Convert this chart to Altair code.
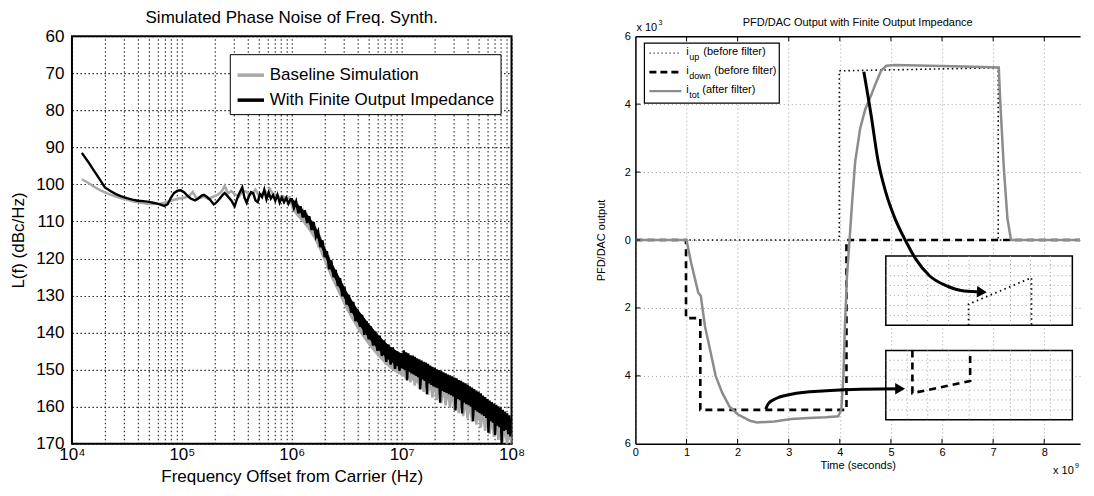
import altair as alt
import pandas as pd

FONT = "Liberation Sans"

# ================= Left panel: simulated phase noise =================
series_names = ["Baseline Simulation", "With Finite Output Impedance"]

# log10(frequency offset) and L(f) magnitude (dBc/Hz)
gray_exp = [4.09, 4.15, 4.2, 4.26, 4.32, 4.38, 4.44, 4.5, 4.56, 4.62, 4.68, 4.74, 4.8, 4.86,
            4.92, 4.97, 5.02, 5.06, 5.1, 5.13, 5.17, 5.2, 5.24, 5.28, 5.32, 5.36, 5.39, 5.42,
            5.45, 5.48, 5.52, 5.55, 5.58, 5.62, 5.65, 5.67, 5.7, 5.73, 5.76, 5.78, 5.8, 5.83,
            5.86, 5.89, 5.92, 5.95, 5.98,
            6.00, 6.02, 6.04, 6.06, 6.08, 6.10, 6.12, 6.14, 6.16, 6.18, 6.20, 6.22, 6.24, 6.26,
            6.28, 6.30, 6.32, 6.34, 6.36, 6.38, 6.40, 6.42, 6.44, 6.46, 6.48, 6.50, 6.52, 6.54,
            6.56, 6.58, 6.60, 6.62, 6.64, 6.66, 6.68, 6.70, 6.72, 6.74, 6.76, 6.78, 6.80, 6.82,
            6.84, 6.86, 6.88, 6.90, 6.92, 6.94, 6.96, 6.98, 7.00, 7.02, 7.04, 7.06, 7.08, 7.10,
            7.12, 7.14, 7.16, 7.18, 7.20, 7.22, 7.24, 7.26, 7.28, 7.30, 7.32, 7.34, 7.36, 7.38,
            7.40, 7.42, 7.44, 7.46, 7.48, 7.50, 7.52, 7.54, 7.56, 7.58, 7.60, 7.62, 7.64, 7.66,
            7.68, 7.70, 7.72, 7.74, 7.76, 7.78, 7.80, 7.82, 7.84, 7.86, 7.88, 7.90, 7.92, 7.94,
            7.96, 7.98, 8.00]
gray_dbc = [98.6, 99.6, 100.6, 101.6, 102.4, 103.1, 103.7, 104.1, 104.6, 104.9, 105.2, 105.3,
            105.2, 104.8, 104.2, 103.8, 103.6, 103.3, 102.0, 103.6, 103.6, 103.3, 103.9, 103.4,
            102.9, 102.0, 100.4, 102.4, 101.8, 102.6, 103.3, 102.0, 101.8, 102.9, 102.2, 101.4,
            103.0, 102.5, 101.9, 102.8, 101.2, 102.6, 102.9, 103.5, 103.1, 104.0, 103.5,
            105.5, 104.8, 107.0, 105.9, 108.5, 107.2, 110.0, 108.6, 111.5, 110.4, 113.4, 112.3,
            116.0, 114.6, 118.5, 117.4, 121.6, 120.2, 124.5, 122.6, 127.0, 124.9, 129.3, 127.4,
            131.8, 129.7, 134.0, 131.9, 136.2, 133.8, 138.4, 135.6, 140.0, 137.3, 141.9, 138.8,
            143.3, 140.4, 144.8, 141.6, 146.2, 142.8, 147.5, 143.9, 148.6, 145.2, 149.9, 146.0,
            150.6, 146.9, 151.5, 147.5, 152.6, 148.3, 153.4, 148.9, 154.3, 149.7, 155.1, 150.4,
            156.0, 151.1, 156.8, 151.9, 157.5, 152.6, 158.2, 153.3, 159.0, 154.1, 159.6, 154.8,
            160.3, 155.4, 161.0, 156.1, 161.7, 156.9, 162.5, 157.6, 163.2, 158.4, 164.0, 159.2,
            164.8, 160.0, 165.6, 160.9, 166.5, 161.7, 167.3, 162.6, 168.1, 163.4, 168.9, 164.3,
            169.6, 165.2, 170.0, 166.0, 170.0]

black_exp = [4.09, 4.15, 4.2, 4.25, 4.3, 4.35, 4.4, 4.45, 4.5, 4.55, 4.6, 4.65, 4.7, 4.75, 4.8,
             4.84, 4.87, 4.9, 4.93, 4.96, 4.99, 5.02, 5.05, 5.08, 5.12, 5.15, 5.18, 5.2, 5.23,
             5.26, 5.29, 5.31, 5.34, 5.37, 5.39, 5.42, 5.45, 5.48, 5.5, 5.52, 5.55, 5.57, 5.59,
             5.61, 5.63, 5.65, 5.67, 5.69, 5.71, 5.73, 5.75, 5.77, 5.79, 5.81, 5.83, 5.85, 5.87,
             5.89, 5.91, 5.93, 5.95, 5.97, 5.99,
             6.00, 6.02, 6.04, 6.06, 6.08, 6.10, 6.12, 6.14, 6.16, 6.18, 6.20, 6.22, 6.24, 6.26,
             6.28, 6.30, 6.32, 6.34, 6.36, 6.38, 6.40, 6.42, 6.44, 6.46, 6.48, 6.50, 6.52, 6.54,
             6.56, 6.58, 6.60, 6.62, 6.64, 6.66, 6.68, 6.70, 6.72, 6.74, 6.76, 6.78, 6.80, 6.82,
             6.84, 6.86, 6.88, 6.90, 6.92, 6.94, 6.96, 6.98, 7.00,
             7.01, 7.02, 7.03, 7.04, 7.05, 7.06, 7.07, 7.08, 7.09, 7.10, 7.11, 7.12, 7.13, 7.14,
             7.15, 7.16, 7.17, 7.18, 7.19, 7.20, 7.21, 7.22, 7.23, 7.24, 7.25, 7.26, 7.27, 7.28,
             7.29, 7.30, 7.31, 7.32, 7.33, 7.34, 7.35, 7.36, 7.37, 7.38, 7.39, 7.40, 7.41, 7.42,
             7.43, 7.44, 7.45, 7.46, 7.47, 7.48, 7.49, 7.50, 7.51, 7.52, 7.53, 7.54, 7.55, 7.56,
             7.57, 7.58, 7.59, 7.60, 7.61, 7.62, 7.63, 7.64, 7.65, 7.66, 7.67, 7.68, 7.69, 7.70,
             7.71, 7.72, 7.73, 7.74, 7.75, 7.76, 7.77, 7.78, 7.79, 7.80, 7.81, 7.82, 7.83, 7.84,
             7.85, 7.86, 7.87, 7.88, 7.89, 7.90, 7.91, 7.92, 7.93, 7.94, 7.95, 7.96, 7.97, 7.98,
             7.99, 8.00]
black_dbc = [91.5, 94.0, 96.3, 98.5, 100.8, 101.8, 102.6, 103.2, 103.7, 104.1, 104.4, 104.5, 104.7,
             105.0, 105.4, 105.8, 105.4, 103.6, 102.3, 101.7, 101.6, 102.1, 103.0, 103.8, 104.3,
             103.8, 103.0, 102.8, 103.4, 104.2, 105.4, 105.0, 104.0, 102.9, 102.3, 103.3, 104.3,
             105.9, 104.1, 102.6, 100.8, 103.6, 105.0, 103.2, 102.1, 102.4, 104.3, 104.8, 102.6,
             103.4, 101.4, 104.0, 102.2, 103.8, 102.9, 104.4, 102.8, 104.9, 103.5, 104.8, 103.6,
             105.2, 104.0,
             104.0, 106.3, 104.6, 107.8, 105.9, 108.9, 107.0, 110.4, 108.6, 112.3, 110.2, 114.1,
             112.6, 116.9, 115.1, 119.6, 118.0, 122.9, 120.5, 125.0, 123.1, 127.4, 125.3, 130.2,
             127.6, 132.4, 129.8, 134.6, 131.7, 136.9, 133.8, 138.4, 135.2, 140.6, 136.9, 141.8,
             138.3, 143.5, 139.7, 144.9, 140.8, 146.3, 142.1, 147.9, 143.2, 148.6, 144.0, 149.8,
             145.1, 150.3, 145.6,
             149.6, 144.8, 150.1, 145.3, 152.9, 145.6, 150.4, 146.1, 151.0, 146.2, 151.3, 146.5,
             151.6, 146.9, 152.0, 147.2, 155.3, 147.5, 152.6, 147.9, 153.0, 148.1, 156.6, 148.4,
             153.7, 148.9, 154.1, 149.2, 154.5, 149.5, 154.8, 149.9, 155.0, 150.1, 158.9, 150.4,
             155.7, 150.7, 156.0, 151.0, 156.3, 151.3, 156.6, 151.5, 156.9, 151.8, 157.2, 152.1,
             161.0, 152.3, 157.9, 152.8, 158.2, 153.0, 161.8, 153.4, 158.9, 153.7, 159.3, 154.0,
             159.6, 154.5, 160.0, 154.8, 163.9, 155.2, 160.9, 155.6, 161.3, 156.0, 161.7, 156.4,
             162.1, 157.0, 162.5, 157.4, 163.0, 157.9, 167.0, 158.3, 163.9, 158.7, 164.3, 159.1,
             167.6, 159.5, 165.1, 159.9, 165.5, 160.3, 170.0, 160.8, 166.5, 161.3, 166.2, 161.8,
             167.4, 162.3, 168.0, 163.0]

# dense noise envelope of the two traces above 1 MHz (log10 f, upper and lower edge in dBc/Hz)
band_exp = [6.00, 6.05, 6.10, 6.15, 6.20, 6.25, 6.30, 6.35, 6.40, 6.45, 6.50, 6.55, 6.60, 6.65,
            6.70, 6.75, 6.80, 6.85, 6.90, 6.95, 7.00, 7.05, 7.10, 7.15, 7.20, 7.25, 7.30, 7.35,
            7.40, 7.45, 7.50, 7.55, 7.60, 7.65, 7.70, 7.75, 7.80, 7.85, 7.90, 7.95, 8.00]
black_band_top = [103.6, 105.3, 106.7, 108.4, 110.5, 113.4, 116.8, 120.2, 123.1, 126.0, 128.9, 131.3,
                  133.7, 135.6, 137.5, 139.3, 141.0, 142.5, 143.8, 144.8, 145.6, 146.3, 147.0, 147.8,
                  148.5, 149.3, 150.0, 150.8, 151.5, 152.3, 153.0, 153.9, 154.8, 155.8, 156.8, 157.9,
                  158.9, 160.0, 161.0, 162.2, 163.3]
black_band_bot = [104.8, 106.7, 108.3, 110.2, 112.5, 115.6, 119.2, 122.8, 125.9, 129.0, 132.1, 134.7,
                  137.3, 139.4, 141.5, 143.3, 145.0, 146.5, 147.8, 148.8, 149.6, 150.3, 151.0, 151.8,
                  152.5, 153.3, 154.0, 154.8, 155.5, 156.3, 157.0, 157.9, 158.8, 159.8, 160.8, 161.9,
                  162.9, 164.0, 165.0, 166.2, 167.3]
gray_band_top = [104.6, 106.3, 107.7, 109.4, 111.5, 114.4, 117.8, 121.2, 124.1, 127.0, 129.9, 132.3,
                 134.7, 136.6, 138.5, 140.3, 142.0, 143.5, 144.8, 145.8, 146.6, 147.3, 148.0, 148.8,
                 149.5, 150.3, 151.0, 151.8, 152.5, 153.3, 154.0, 154.9, 155.8, 156.8, 157.8, 158.9,
                 159.9, 161.0, 162.0, 163.2, 164.3]
gray_band_bot = [106.8, 108.7, 110.3, 112.2, 114.5, 117.6, 121.2, 124.8, 127.9, 131.0, 134.1, 136.7,
                 139.3, 141.4, 143.5, 145.3, 147.0, 148.5, 149.8, 150.8, 151.6, 152.3, 153.0, 153.8,
                 154.5, 155.3, 156.0, 156.8, 157.5, 158.3, 159.0, 159.9, 160.8, 161.8, 162.8, 163.9,
                 164.9, 166.0, 167.0, 168.2, 169.3]

decade_values = [10000, 100000, 1000000, 10000000, 100000000]
decade_labels = ["10⁴", "10⁵", "10⁶", "10⁷", "10⁸"]
left_y_ticks = [60, 70, 80, 90, 100, 110, 120, 130, 140, 150, 160, 170]

# ================= Right panel: PFD/DAC output (units of 1e-3, time in 1e-9 s) =================
t_tot = [0.0, 1.0, 1.09, 1.23, 1.28, 1.36, 1.47, 1.57, 1.7, 1.84, 2.0, 2.24, 2.38, 2.72, 3.05,
         3.39, 3.73, 3.97, 4.03, 4.07, 4.1, 4.14, 4.19, 4.24, 4.3, 4.4, 4.5, 4.61, 4.71, 4.81,
         4.91, 5.08, 5.76, 6.43, 7.11, 7.14, 7.21, 7.28, 7.35, 8.7]
i_tot = [0.0, 0.0, -0.67, -1.55, -1.65, -2.53, -3.3, -4.0, -4.5, -4.9, -5.13, -5.32, -5.37,
         -5.34, -5.27, -5.24, -5.22, -5.19, -4.98, -4.0, -2.53, -1.06, 0.0, 1.1, 2.3, 3.3, 3.86,
         4.25, 4.64, 4.99, 5.13, 5.15, 5.13, 5.11, 5.08, 4.06, 2.1, 0.63, 0.0, 0.0]

t_up = [0.0, 3.99, 3.99, 7.10, 7.10, 8.7]
i_up = [0.0, 0.0, 4.98, 5.07, 0.0, 0.0]

t_down = [0.0, 0.99, 0.99, 1.27, 1.27, 4.13, 4.13, 8.7]
i_down = [0.0, 0.0, -2.3, -2.3, -5.0, -5.0, 0.0, 0.0]

inset_t = [4.9, 8.55]
upper_inset_i = [-0.47, -2.51]
lower_inset_i = [-3.25, -5.29]
inset_grid_t = [5.32, 5.72, 6.13, 6.53, 6.94, 7.34, 7.73, 8.12]
upper_grid_i = [-0.76, -1.05, -1.34, -1.63, -1.93, -2.22]
lower_grid_i = [-3.54, -3.83, -4.12, -4.42, -4.71, -5.0]

zoom_up_t = [6.52, 6.52, 7.75, 7.75]
zoom_up_i = [-2.51, -1.89, -1.11, -2.51]
zoom_down_t = [5.42, 5.42, 6.55, 6.55]
zoom_down_i = [-3.25, -4.51, -4.15, -3.36]

arrow1_t = [4.47, 4.62, 4.74, 4.9, 5.08, 5.28, 5.49, 5.76, 6.09, 6.43, 6.78]
arrow1_i = [4.95, 3.6, 2.4, 1.4, 0.63, 0.0, -0.57, -1.06, -1.35, -1.5, -1.53]
arrow2_t = [2.55, 2.6, 2.72, 3.05, 3.73, 4.41, 5.18]
arrow2_i = [-4.98, -4.82, -4.69, -4.54, -4.44, -4.39, -4.38]

x_ticks_right = [0, 1, 2, 3, 4, 5, 6, 7, 8]
y_ticks_right = [-6, -4, -2, 0, 2, 4, 6]
legend_subs = ["up", "down", "tot"]
legend_rest = ["(before filter)", "(before filter)", "(after filter)"]

# ---------------------------------------------------------------------------
minor_ticks = [m * 10 ** k for k in range(4, 8) for m in range(1, 10)] + [10 ** 8]
label_expr = " : ".join(f"datum.value == {v} ? '{lab}'" for v, lab in zip(decade_values, decade_labels)) + " : ''"


def left_frame(exps, vals, name):
    return pd.DataFrame({"f": [10 ** e for e in exps], "L": vals, "series": name,
                         "k": list(range(len(vals)))})


x_axis_left = alt.Axis(values=minor_ticks, labelExpr=label_expr, title="Frequency Offset from Carrier (Hz)",
                       labelFont=FONT, labelFontSize=17, labelColor="black", labelPadding=3,
                       labelFlush=False, labelOverlap=False,
                       titleFont=FONT, titleFontSize=17, titleFontWeight="normal", titleColor="black",
                       titlePadding=6, grid=True, gridColor="black", gridDash=[1.5, 2.5],
                       gridOpacity=0.85, gridWidth=1.1, domain=False, ticks=False)
y_axis_left = alt.Axis(values=left_y_ticks, title="L(f) (dBc/Hz)", labelFont=FONT, labelFontSize=17,
                       labelColor="black", labelPadding=8, titleFont=FONT, titleFontSize=17,
                       titleFontWeight="normal", titleColor="black", titlePadding=8, grid=True,
                       gridColor="black", gridDash=[1.5, 2.5], gridOpacity=0.85, gridWidth=1.1,
                       domain=False, ticks=False)

LXS = alt.Scale(type="log", domain=[1e4, 1e8], nice=False)
LYS = alt.Scale(domain=[60, 170], reverse=True, nice=False)
xL = alt.X("f:Q", scale=LXS, axis=x_axis_left)
yL = alt.Y("L:Q", scale=LYS, axis=y_axis_left)
colorL = alt.Color("series:N", scale=alt.Scale(domain=series_names, range=["#a9a9a9", "#000000"]),
                   legend=alt.Legend(title=None, orient="none", legendX=158, legendY=18,
                                     symbolType="stroke", symbolSize=700, symbolStrokeWidth=3.5,
                                     labelFont=FONT, labelFontSize=17, labelColor="black",
                                     labelLimit=400, strokeColor="black", fillColor="white",
                                     padding=6, rowPadding=2))

band_df = pd.DataFrame({"f": [10 ** e for e in band_exp], "bt": black_band_top, "bb": black_band_bot,
                        "gt": gray_band_top, "gb": gray_band_bot})
gray_band = alt.Chart(band_df).mark_area(color="#a9a9a9", clip=True).encode(
    x=alt.X("f:Q", scale=LXS, axis=x_axis_left), y=alt.Y("gt:Q", scale=LYS, axis=y_axis_left), y2="gb:Q")
black_band = alt.Chart(band_df).mark_area(color="#000000", clip=True).encode(
    x=alt.X("f:Q", scale=LXS, axis=x_axis_left), y=alt.Y("bt:Q", scale=LYS, axis=y_axis_left), y2="bb:Q")

gray_line = alt.Chart(left_frame(gray_exp, gray_dbc, series_names[0])).mark_line(
    strokeWidth=2.5, clip=True).encode(x=xL, y=yL, color=colorL, order="k:Q")
black_line = alt.Chart(left_frame(black_exp, black_dbc, series_names[1])).mark_line(
    strokeWidth=2.4, clip=True).encode(x=xL, y=yL, color=colorL, order="k:Q")

left = alt.layer(gray_band, gray_line, black_band, black_line).properties(
    width=440, height=408,
    title=alt.TitleParams("Simulated Phase Noise of Freq. Synth.", font=FONT, fontSize=17,
                          fontWeight="normal", color="black", offset=0, frame="group"),
    view=alt.ViewBackground(stroke="black", strokeWidth=2))

# ---------------------------------------------------------------------------
one = pd.DataFrame({"a": [1]})
XS = alt.Scale(domain=[0, 8.7], nice=False)
YS = alt.Scale(domain=[-6, 6], nice=False)
GRID_R = "#a0a0a0"


def seq_frame(ts, vs):
    return pd.DataFrame({"t": ts, "v": vs, "k": list(range(len(ts)))})


def line_layer(ts, vs, x_axis=None, y_axis=None, **style):
    return alt.Chart(seq_frame(ts, vs)).mark_line(**style).encode(
        x=alt.X("t:Q", scale=XS, axis=x_axis), y=alt.Y("v:Q", scale=YS, axis=y_axis), order="k:Q")


x_axis_right = alt.Axis(values=x_ticks_right, title="Time (seconds)", labelFont=FONT, labelFontSize=11,
                        labelColor="black", labelPadding=3, labelFlush=False, titleFont=FONT,
                        titleFontSize=11, titleFontWeight="normal", titleColor="black", titlePadding=2,
                        grid=True, gridColor=GRID_R, gridDash=[1, 3], gridWidth=1, domain=True,
                        domainColor="black", domainWidth=1.5, ticks=False, orient="bottom")
y_axis_right = alt.Axis(values=y_ticks_right, labelExpr="abs(datum.value)", title="PFD/DAC output",
                        labelFont=FONT, labelFontSize=11, labelColor="black", labelPadding=5,
                        titleFont=FONT, titleFontSize=11, titleFontWeight="normal", titleColor="black",
                        titlePadding=18, grid=True, gridColor=GRID_R, gridDash=[1, 3], gridWidth=1,
                        domain=True, domainColor="black", domainWidth=1.5, ticks=False)
top_axis = alt.Axis(orient="top", labels=False, ticks=False, grid=False, title=None, domain=True,
                    domainColor="black", domainWidth=1.5, minExtent=0, maxExtent=0)

layers = []
layers.append(line_layer(t_up, i_up, color="black", strokeWidth=1.6, strokeDash=[1.5, 3]))
layers.append(line_layer(t_down, i_down, color="black", strokeWidth=2.6, strokeDash=[7, 5]))
layers.append(line_layer(t_tot, i_tot, x_axis=x_axis_right, y_axis=y_axis_right,
                         color="#8c8c8c", strokeWidth=2.5))
layers.append(alt.Chart(seq_frame(t_tot, i_tot)).mark_point(opacity=0).encode(
    x=alt.X("t:Q", scale=XS, axis=top_axis), y=alt.Y("v:Q", scale=YS, axis=None)))

# inward tick marks on the frame
tick_x = pd.DataFrame({"t": x_ticks_right[1:]})
tick_y = pd.DataFrame({"v": y_ticks_right[1:-1]})
layers.append(alt.Chart(tick_x).mark_rule(color="black", strokeWidth=1).encode(
    x=alt.X("t:Q", scale=XS, axis=None), y=alt.value(0), y2=alt.value(5)))
layers.append(alt.Chart(tick_x).mark_rule(color="black", strokeWidth=1).encode(
    x=alt.X("t:Q", scale=XS, axis=None), y=alt.value(403), y2=alt.value(408)))
layers.append(alt.Chart(tick_y).mark_rule(color="black", strokeWidth=1).encode(
    y=alt.Y("v:Q", scale=YS, axis=None), x=alt.value(0), x2=alt.value(5)))

# insets
boxes = pd.DataFrame({"t0": [inset_t[0]] * 2, "t1": [inset_t[1]] * 2,
                      "v0": [upper_inset_i[0], lower_inset_i[0]], "v1": [upper_inset_i[1], lower_inset_i[1]]})
layers.append(alt.Chart(boxes).mark_rect(fill="white", stroke="black", strokeWidth=1.5).encode(
    x=alt.X("t0:Q", scale=XS, axis=None), x2="t1:Q",
    y=alt.Y("v0:Q", scale=YS, axis=None), y2="v1:Q"))
vgrid = pd.DataFrame({"t": inset_grid_t * 2,
                      "v0": [upper_inset_i[0]] * len(inset_grid_t) + [lower_inset_i[0]] * len(inset_grid_t),
                      "v1": [upper_inset_i[1]] * len(inset_grid_t) + [lower_inset_i[1]] * len(inset_grid_t)})
layers.append(alt.Chart(vgrid).mark_rule(color=GRID_R, strokeWidth=1, strokeDash=[1, 3]).encode(
    x=alt.X("t:Q", scale=XS, axis=None), y=alt.Y("v0:Q", scale=YS, axis=None), y2="v1:Q"))
hgrid = pd.DataFrame({"v": upper_grid_i + lower_grid_i, "t0": inset_t[0], "t1": inset_t[1]})
layers.append(alt.Chart(hgrid).mark_rule(color=GRID_R, strokeWidth=1, strokeDash=[1, 3]).encode(
    y=alt.Y("v:Q", scale=YS, axis=None), x=alt.X("t0:Q", scale=XS, axis=None), x2="t1:Q"))
layers.append(line_layer(zoom_up_t, zoom_up_i, color="black", strokeWidth=1.8, strokeDash=[1.5, 3.5]))
layers.append(line_layer(zoom_down_t, zoom_down_i, color="black", strokeWidth=2.6, strokeDash=[7, 5]))

# curved arrows
layers.append(line_layer(arrow1_t, arrow1_i, color="black", strokeWidth=3, interpolate="monotone"))
layers.append(line_layer(arrow2_t, arrow2_i, color="black", strokeWidth=3, interpolate="monotone"))
heads = pd.DataFrame({"t": [arrow1_t[-1], arrow2_t[-1]], "v": [arrow1_i[-1], arrow2_i[-1]],
                      "ang": [3, 0]})
layers.append(alt.Chart(heads).mark_point(shape="triangle-right", filled=True, size=130,
                                          color="black", opacity=1).encode(
    x=alt.X("t:Q", scale=XS, axis=None), y=alt.Y("v:Q", scale=YS, axis=None),
    angle=alt.Angle("ang:Q", scale=None)))

# legend (built by hand so the subscripts can be shown)
layers.append(alt.Chart(one).mark_rect(fill="white", stroke="black", strokeWidth=1.2).encode(
    x=alt.value(9), x2=alt.value(144), y=alt.value(7), y2=alt.value(67)))
row_y = [17, 36, 55]
sample_styles = [dict(color="#555555", strokeWidth=1.2, strokeDash=[1.5, 2.5]),
                 dict(color="black", strokeWidth=2.6, strokeDash=[7, 4]),
                 dict(color="#8c8c8c", strokeWidth=2.2)]
rest_x = [68, 79, 67]
for j in range(3):
    layers.append(alt.Chart(one).mark_rule(**sample_styles[j]).encode(
        x=alt.value(14), x2=alt.value(46), y=alt.value(row_y[j])))
    layers.append(alt.Chart(one).mark_text(text="i", align="left", baseline="middle", font=FONT,
                                           fontSize=11, color="black").encode(
        x=alt.value(51), y=alt.value(row_y[j] - 1)))
    layers.append(alt.Chart(one).mark_text(text=legend_subs[j], align="left", baseline="middle",
                                           font=FONT, fontSize=9, color="black").encode(
        x=alt.value(54), y=alt.value(row_y[j] + 4)))
    layers.append(alt.Chart(one).mark_text(text=legend_rest[j], align="left", baseline="middle",
                                           font=FONT, fontSize=11, color="black").encode(
        x=alt.value(rest_x[j]), y=alt.value(row_y[j] - 1)))

# exponent annotations
for (tx, ty, txt, fs) in [(1, -8, "x 10", 11), (23, -13, "3", 7), (418, 435, "x 10", 11), (440, 430, "9", 7)]:
    layers.append(alt.Chart(one).mark_text(text=txt, align="left", baseline="middle", font=FONT,
                                           fontSize=fs, color="black").encode(
        x=alt.value(tx), y=alt.value(ty)))

right = alt.layer(*layers).resolve_axis(x="independent", y="independent").properties(
    width=445, height=408,
    title=alt.TitleParams("PFD/DAC Output with Finite Output Impedance", font=FONT, fontSize=11,
                          fontWeight="normal", color="black", offset=-9, frame="group"),
    view=alt.ViewBackground(stroke=None))

chart = alt.hconcat(left, right, spacing=68).properties(
    padding={"left": 0, "top": 0, "right": 0, "bottom": 1},
    background="white")

chart.save("out.html", embed_options={"renderer": "svg", "actions": False})
